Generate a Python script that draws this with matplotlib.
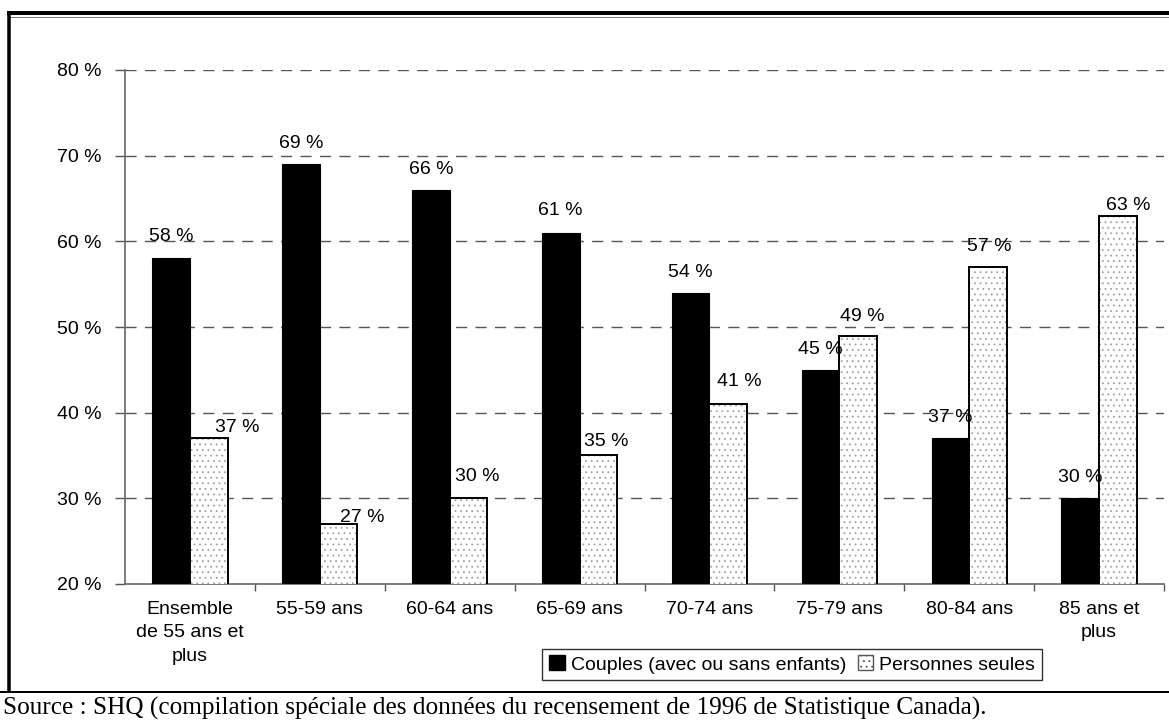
import matplotlib
matplotlib.use("Agg")
import matplotlib.pyplot as plt
import numpy as np
from matplotlib.lines import Line2D
from matplotlib.patches import Patch

# ---- data ----
categories = ["Ensemble\nde 55 ans et\nplus", "55-59 ans", "60-64 ans", "65-69 ans",
              "70-74 ans", "75-79 ans", "80-84 ans", "85 ans et\nplus"]
couples = [58, 69, 66, 61, 54, 45, 37, 30]
seules = [37, 27, 30, 35, 41, 49, 57, 63]
series_names = ["Couples (avec ou sans enfants)", "Personnes seules"]
yticks = [20, 30, 40, 50, 60, 70, 80]
source_text = "Source : SHQ (compilation spéciale des données du recensement de 1996 de Statistique Canada)."

# ---- label placement tweaks (pixels) ----
couples_dx = [0, 0, 0, 0, 0, 0, 0, 0]
couples_dy = [17, 16, 16, 18, 16, 16, 16, 16]
seules_dx = [28, 24, 9, 8, 11, 4, 1, 10]
seules_dy = [6, 2, 17, 9, 18, 15, 16, 6]

plt.rcParams['font.family'] = ['Liberation Sans', 'DejaVu Sans']
W, H = 1169, 723
fig = plt.figure(figsize=(W / 100, H / 100), dpi=100)
ax = fig.add_axes([125 / W, 1 - 584 / H, (1164 - 125) / W, (584 - 70) / H])

x = np.arange(len(categories))
bw = 0.29
ax.bar(x - bw, couples, width=bw, align='edge', color='black',
       edgecolor='black', linewidth=0.8, zorder=3)
plt.rcParams['hatch.linewidth'] = 0.6
ax.bar(x, seules, width=bw, align='edge', color='white', edgecolor='#a0a0a0',
       hatch='...', linewidth=0, zorder=3)
ax.bar(x, seules, width=bw, align='edge', color='none', edgecolor='black',
       linewidth=1.4, zorder=4)

fs = 14
for i, v in enumerate(couples):
    ax.annotate(f"{v} %", (x[i] - bw / 2, v), xytext=(couples_dx[i], couples_dy[i]),
                textcoords='offset pixels', ha='center', va='baseline', fontsize=fs, zorder=5)
for i, v in enumerate(seules):
    ax.annotate(f"{v} %", (x[i] + bw / 2, v), xytext=(seules_dx[i], seules_dy[i]),
                textcoords='offset pixels', ha='center', va='baseline', fontsize=fs, zorder=5)

ax.set_ylim(20, 80)
ax.set_xlim(-0.5, len(categories) - 0.5)
ax.set_yticks(yticks)
ax.set_yticklabels([f"{t} %" for t in yticks], fontsize=fs)
ax.set_xticks(x)
ax.set_xticklabels(categories, fontsize=fs, linespacing=1.5)
ax.set_xticks(np.arange(len(categories)) + 0.5, minor=True)
ax.tick_params(axis='x', which='major', length=0, pad=12)
ax.tick_params(axis='x', which='minor', length=5, direction='out', color='#555555', width=1)
ax.tick_params(axis='y', length=7, direction='out', color='#555555', width=1, pad=10)

for yv in yticks[1:]:
    ax.axhline(yv, color='#555555', linewidth=1.0, linestyle=(0, (8, 6)), zorder=1)

for s in ['top', 'right']:
    ax.spines[s].set_visible(False)
for s in ['left', 'bottom']:
    ax.spines[s].set_color('#666666')
    ax.spines[s].set_linewidth(1.2)
ax.set_facecolor('none')

# legend
handles = [Patch(facecolor='black', edgecolor='black'),
           Patch(facecolor='white', edgecolor='#555555', hatch='...')]
leg = fig.legend(handles, series_names, loc='center', ncol=2,
                 bbox_to_anchor=((547 + 1037) / 2 / W, 1 - 664.5 / H),
                 fontsize=fs, frameon=True, fancybox=False, edgecolor='black',
                 handlelength=0.8, handleheight=0.8, handletextpad=0.3,
                 columnspacing=0.6, borderpad=0.35, borderaxespad=0)
leg.get_frame().set_linewidth(1.0)

# frame lines
def px_line(x0, y0, x1, y1, lw, color='black'):
    fig.add_artist(Line2D([x0 / W, x1 / W], [1 - y0 / H, 1 - y1 / H],
                          transform=fig.transFigure, color=color, linewidth=lw * 0.72,
                          solid_capstyle='butt'))

px_line(7, 13, W, 13, 4)
px_line(9, 16.5, W, 16.5, 1, '#777777')
px_line(8.5, 11, 8.5, 692, 3.5)
px_line(0, 691.5, W, 691.5, 2)

fig.text(3 / W, 1 - 708 / H, source_text, fontsize=18.2, va='center', ha='left',
         family=['Liberation Serif', 'DejaVu Serif'])

fig.savefig("out.png", dpi=100)
